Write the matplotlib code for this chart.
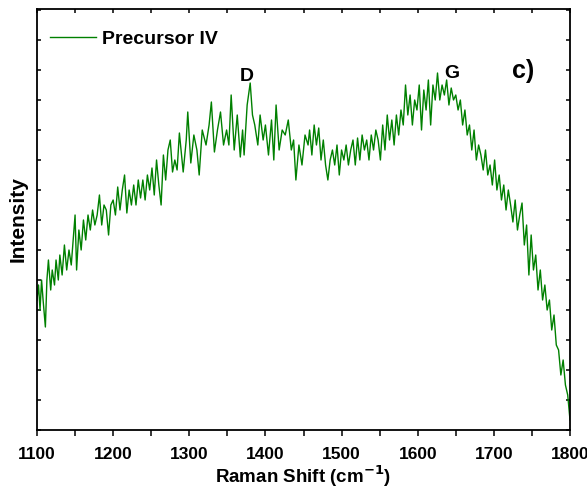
import numpy as np
import matplotlib
matplotlib.use("Agg")
import matplotlib.pyplot as plt
from matplotlib.ticker import MultipleLocator

desplazamiento = [
    1100, 1102, 1104, 1106, 1108, 1111, 1113, 1115, 1118, 1120, 1123, 1125,
    1128, 1130, 1133, 1136, 1139, 1142, 1145, 1148, 1150, 1152, 1155, 1158,
    1161, 1164, 1167, 1170, 1173, 1176, 1179, 1182, 1185, 1188,
    1191, 1194, 1197, 1200, 1203, 1206, 1209, 1212, 1215, 1218, 1221, 1224,
    1227, 1230, 1233, 1236, 1239, 1242, 1245, 1248, 1251, 1254, 1257, 1260,
    1263, 1266, 1269, 1272, 1275, 1278, 1281,
    1284, 1287, 1292, 1296, 1298, 1302, 1306, 1310, 1313, 1317, 1322, 1326,
    1329, 1333, 1337, 1341, 1345, 1349, 1352, 1355, 1359, 1363, 1367,
    1370, 1372, 1376, 1380, 1383, 1386, 1390, 1393, 1397, 1400, 1404, 1408,
    1411, 1414, 1418, 1422, 1426, 1430, 1434, 1437, 1440, 1444, 1448, 1452,
    1456, 1458, 1461, 1464, 1467, 1470, 1473, 1476, 1479, 1482, 1485, 1488,
    1491, 1494, 1497, 1500, 1503, 1506, 1509, 1512, 1515, 1518, 1521, 1524,
    1527, 1530, 1533, 1536, 1539, 1542, 1545,
    1548, 1551, 1554, 1557, 1560, 1563, 1566, 1569, 1572, 1575, 1578, 1581,
    1584, 1587, 1590, 1593, 1596, 1599, 1602, 1605, 1608, 1611, 1614, 1617,
    1620, 1623, 1626, 1629, 1632,
    1635, 1638, 1641, 1644, 1647, 1650, 1653, 1656, 1659, 1662, 1665, 1668,
    1671, 1674, 1677, 1680, 1683, 1686, 1689, 1692, 1695, 1698, 1701, 1704,
    1707, 1710, 1713, 1716, 1719,
    1722, 1725, 1728, 1731, 1734, 1737, 1740, 1743, 1746, 1749, 1752, 1755,
    1758, 1761, 1764, 1767, 1770, 1773, 1776, 1779, 1782, 1785, 1788, 1791,
    1794, 1797, 1800,
]
intensidad = [
    130, 145, 120, 150, 130, 103, 150, 170, 140, 160, 145, 170,
    150, 175, 155, 185, 160, 180, 165, 195, 215, 160, 200, 180,
    210, 190, 215, 200, 220, 205, 215, 235, 205, 225,
    220, 195, 225, 230, 215, 243, 220, 240, 255, 217, 240, 225,
    245, 225, 250, 232, 250, 230, 255, 240, 262, 235, 270, 245,
    225, 275, 250, 280, 290, 258, 270,
    260, 297, 258, 290, 318, 267, 295, 280, 255, 300, 285, 305,
    328, 278, 300, 318, 285, 300, 285, 335, 280, 315, 273,
    300, 275, 325, 347, 315, 305, 285, 315, 290, 305, 275, 310,
    270, 325, 280, 300, 295, 310, 280, 290, 250, 285, 265, 295,
    285, 300, 275, 305, 285, 302, 270, 290, 265, 250, 270, 280,
    265, 285, 255, 280, 270, 285, 265, 280, 290, 265, 292, 270,
    295, 280, 290, 270, 295, 280, 300,
    290, 270, 305, 280, 315, 290, 310, 285, 315, 295, 320, 305,
    345, 315, 335, 305, 330, 320, 345, 300, 340, 320, 350, 305,
    345, 330, 357, 330, 345,
    335, 350, 325, 342, 330, 335, 320, 330, 305, 320, 295, 305,
    280, 300, 270, 285, 275, 260, 280, 255, 265, 245, 270, 240,
    255, 230, 245, 220, 240,
    225, 208, 230, 200, 215, 227, 185, 205, 155, 195, 160, 175,
    140, 160, 130, 145, 120, 130, 100, 115, 85, 80, 55, 70,
    45, 35, 10,
]

plt.rcParams['font.family'] = ['Liberation Sans', 'DejaVu Sans']
plt.rcParams['font.weight'] = 'bold'

fig = plt.figure(figsize=(5.87, 4.90), dpi=100)
ax = fig.add_axes([37 / 587, 60 / 490, 533 / 587, 421 / 490])

ax.plot(desplazamiento, intensidad, color='#008000', linewidth=1.0,
        label='Precursor IV')

ax.set_xlim(1100, 1800)
ax.set_ylim(0, 421)
ax.xaxis.set_major_locator(MultipleLocator(100))
ax.xaxis.set_minor_locator(MultipleLocator(50))
ax.yaxis.set_major_locator(MultipleLocator(30))
ax.set_yticklabels([])
ax.tick_params(axis='x', which='both', direction='out', length=4, width=1.1,
               labelsize=12.5, top=False, pad=8)
ax.tick_params(axis='y', which='both', direction='in', length=3, width=1.1,
               right=True)
for lbl in ax.get_xticklabels():
    lbl.set_fontweight('bold')

# ticks superiores hacia dentro
sec = ax.secondary_xaxis('top')
sec.xaxis.set_major_locator(MultipleLocator(50))
sec.tick_params(direction='in', length=3, width=1.1, labeltop=False)
sec.spines['top'].set_visible(False)

for s in ax.spines.values():
    s.set_linewidth(1.3)

ax.set_xlabel('Raman Shift (cm$^{\\mathbf{-1}}$)', fontsize=13.5,
              fontweight='bold', labelpad=1)
ax.set_ylabel('Intensity', fontsize=15, fontweight='bold', labelpad=3)

ax.legend(loc='upper left', bbox_to_anchor=(0.024, 0.950), frameon=False,
          borderpad=0, borderaxespad=0, handlelength=2.4, handletextpad=0.3,
          prop={'size': 14, 'weight': 'bold'})

ax.text(1376, 349, 'D', fontsize=14, fontweight='bold', ha='center',
        va='baseline')
ax.text(1645, 352, 'G', fontsize=14, fontweight='bold', ha='center',
        va='baseline')
ax.text(1738, 352, 'c)', fontsize=18, fontweight='bold', ha='center',
        va='baseline')

fig.savefig('out.png', dpi=100)
